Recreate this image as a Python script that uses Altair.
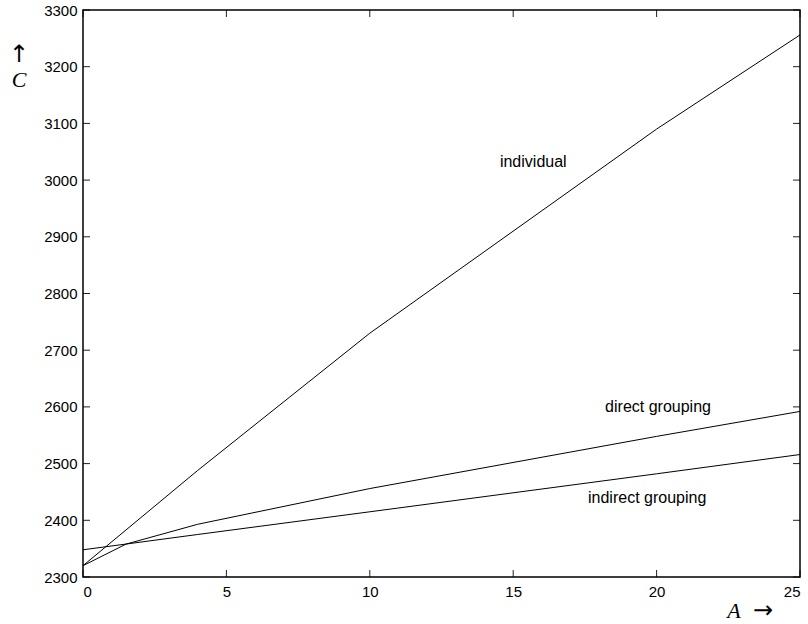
import altair as alt
import pandas as pd

# ---- data ----
individual_x = [0, 4, 10, 20, 25]
individual_y = [2320, 2488, 2730, 3090, 3256]

direct_x = [0, 1.5, 4, 10, 20, 25]
direct_y = [2320, 2358, 2393, 2456, 2548, 2592]

indirect_x = [0, 4, 10, 20, 25]
indirect_y = [2348, 2375, 2415, 2482, 2516]

label_text = ["individual", "direct grouping", "indirect grouping"]
label_x = [15.7, 20.05, 19.67]
label_y = [3032, 2600, 2439]

x_ticks = [0, 5, 10, 15, 20, 25]
y_ticks = [2300, 2400, 2500, 2600, 2700, 2800, 2900, 3000, 3100, 3200, 3300]

W, H = 717, 567

lines_df = pd.concat([
    pd.DataFrame({"A": individual_x, "C": individual_y, "series": "individual"}),
    pd.DataFrame({"A": direct_x, "C": direct_y, "series": "direct grouping"}),
    pd.DataFrame({"A": indirect_x, "C": indirect_y, "series": "indirect grouping"}),
], ignore_index=True)
lines_df["order"] = lines_df.index

labels_df = pd.DataFrame({"A": label_x, "C": label_y, "text": label_text})
xt_df = pd.DataFrame({"A": x_ticks})
yt_df = pd.DataFrame({"C": y_ticks})

xscale = alt.Scale(domain=[0, 25], nice=False, zero=False)
yscale = alt.Scale(domain=[2300, 3300], nice=False, zero=False)

lines = alt.Chart(lines_df).mark_line(color="black", strokeWidth=1).encode(
    x=alt.X("A:Q", scale=xscale,
            axis=alt.Axis(values=x_ticks, ticks=False, domain=False, grid=False,
                          title=None, format="d", labelFont="Liberation Sans",
                          labelFontSize=15, labelColor="black", labelPadding=7)),
    y=alt.Y("C:Q", scale=yscale,
            axis=alt.Axis(values=y_ticks, ticks=False, domain=False, grid=False,
                          title=None, format="d", labelFont="Liberation Sans",
                          labelFontSize=15, labelColor="black", labelPadding=6)),
    detail="series:N",
    order="order:Q",
)

labels = alt.Chart(labels_df).mark_text(
    font="Liberation Sans", fontSize=16, color="black", align="center", baseline="middle"
).encode(
    x=alt.X("A:Q", scale=xscale),
    y=alt.Y("C:Q", scale=yscale),
    text="text:N",
)

tick_style = dict(color="#222", strokeWidth=1)
xt_bottom = alt.Chart(xt_df).mark_rule(**tick_style).encode(
    x=alt.X("A:Q", scale=xscale), y=alt.value(H), y2=alt.value(H - 7))
xt_top = alt.Chart(xt_df).mark_rule(**tick_style).encode(
    x=alt.X("A:Q", scale=xscale), y=alt.value(0), y2=alt.value(7))
yt_left = alt.Chart(yt_df).mark_rule(**tick_style).encode(
    y=alt.Y("C:Q", scale=yscale), x=alt.value(0), x2=alt.value(7))
yt_right = alt.Chart(yt_df).mark_rule(**tick_style).encode(
    y=alt.Y("C:Q", scale=yscale), x=alt.value(W), x2=alt.value(W - 7))

frame_df = pd.DataFrame({"t": [0]})
frame = alt.Chart(frame_df).mark_rect(
    fill=None, stroke="black", strokeWidth=1.5
).encode(x=alt.value(0), x2=alt.value(W), y=alt.value(0), y2=alt.value(H))

serif = "Liberation Serif"
title_df = pd.DataFrame({"t": [0]})
x_title_A = alt.Chart(title_df).mark_text(
    font=serif, fontStyle="italic", fontSize=22, color="black", align="center", baseline="middle"
).encode(x=alt.value(651), y=alt.value(601), text=alt.value("A"))
x_title_arrow = alt.Chart(title_df).mark_text(
    font="DejaVu Sans", fontSize=24, color="black", align="center", baseline="middle"
).encode(x=alt.value(680), y=alt.value(601), text=alt.value("→"))
y_title_arrow = alt.Chart(title_df).mark_text(
    font="DejaVu Sans", fontSize=24, color="black", align="center", baseline="middle"
).encode(x=alt.value(-64), y=alt.value(45), text=alt.value("↑"))
y_title_C = alt.Chart(title_df).mark_text(
    font=serif, fontStyle="italic", fontSize=22, color="black", align="center", baseline="middle"
).encode(x=alt.value(-64), y=alt.value(70), text=alt.value("C"))

chart = alt.layer(
    lines, labels, xt_bottom, xt_top, yt_left, yt_right, frame,
    x_title_A, x_title_arrow, y_title_arrow, y_title_C,
).properties(
    width=W, height=H,
    autosize=alt.AutoSizeParams(type="none"),
    padding={"left": 83, "top": 10, "right": 8, "bottom": 47},
    background="white",
).configure_view(
    stroke=None
)

chart.save("out.html", embed_options={"renderer": "svg", "actions": False})
